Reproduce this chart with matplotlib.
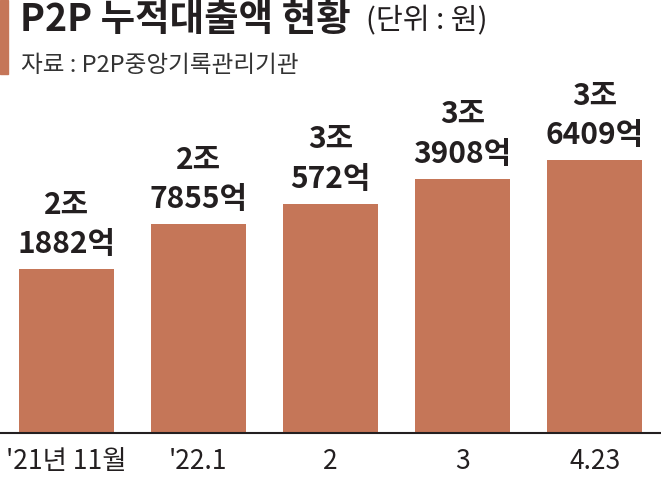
import matplotlib
matplotlib.use("Agg")
import matplotlib.pyplot as plt
from matplotlib.patches import Rectangle

plt.rcParams['font.family'] = ['Noto Sans CJK KR', 'DejaVu Sans']

# data (unit: 억원)
categories = ["'21년 11월", "'22.1", "2", "3", "4.23"]
values = [21882, 27855, 30572, 33908, 36409]
value_labels = ["2조\n1882억", "2조\n7855억", "3조\n572억", "3조\n3908억", "3조\n6409억"]

bar_color = '#C57658'
text_color = '#231F20'

W, H = 661, 482
fig = plt.figure(figsize=(W / 100, H / 100), dpi=100)

# axes: full width, baseline at y=433px, top at y=100px
ax = fig.add_axes([0, 1 - 433 / H, 1, (433 - 100) / H])
x = list(range(len(categories)))
ax.bar(x, values, width=0.72, color=bar_color, zorder=2)
ax.set_xlim(-0.5, len(categories) - 0.5)
ax.set_ylim(0, 333 / 75 * 10000)

for xi, v, lab in zip(x, values, value_labels):
    ax.annotate(lab, (xi, v), xytext=(0, 7), textcoords='offset points',
                ha='center', va='bottom', fontsize=21.5, fontweight='bold',
                color=text_color, linespacing=1.4)

ax.set_xticks(x)
ax.set_xticklabels(categories, fontsize=19, color=text_color)
ax.tick_params(axis='x', length=0, pad=11)
ax.set_yticks([])
for s in ['top', 'left', 'right']:
    ax.spines[s].set_visible(False)
ax.spines['bottom'].set_color(text_color)
ax.spines['bottom'].set_linewidth(1.5)

# title block
fig.patches.append(Rectangle((0, 1 - 74 / H), 8 / W, 74 / H,
                             transform=fig.transFigure, color=bar_color))
fig.text(20 / W, 1 - 19 / H, "P2P 누적대출액 현황", fontsize=27,
         fontweight='bold', color=text_color, va='center', ha='left')
fig.text(366 / W, 1 - 21 / H, "(단위 : 원)", fontsize=21,
         color=text_color, va='center', ha='left')
fig.text(21 / W, 1 - 65 / H, "자료 : P2P중앙기록관리기관", fontsize=17,
         color='#333333', va='center', ha='left')

fig.savefig('out.png', dpi=100)
